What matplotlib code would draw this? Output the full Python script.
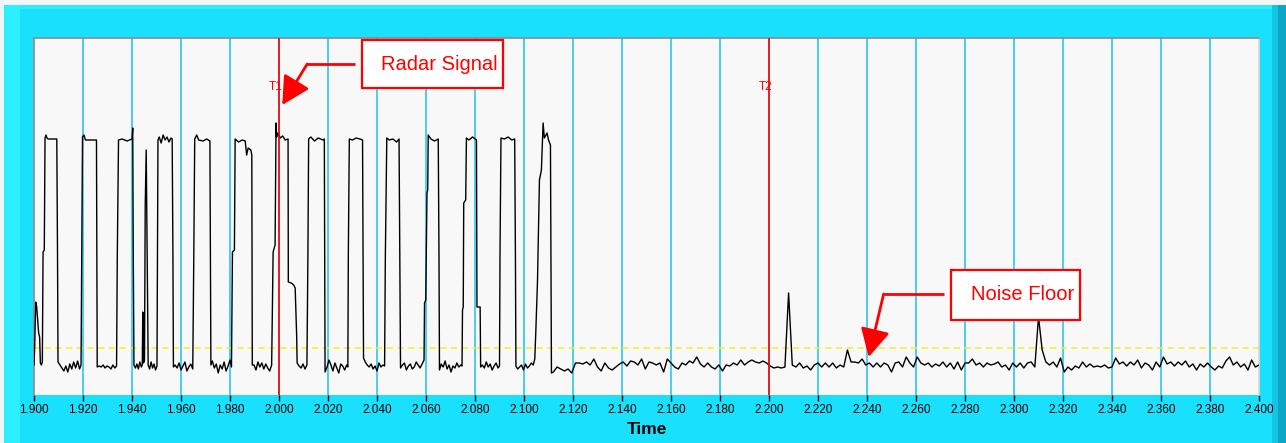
import numpy as np
import matplotlib
matplotlib.use("Agg")
import matplotlib.pyplot as plt
from matplotlib.patches import Rectangle

plt.rcParams['font.family'] = ['Liberation Sans', 'DejaVu Sans']

# ---------------- data ----------------
# pulse section of the trace (time, level)
pulse_time = [
    1.9000, 1.9003, 1.9007, 1.9011, 1.9015, 1.9019, 1.9023, 1.9026, 1.9030, 1.9034,
    1.9037, 1.9042, 1.9045, 1.9049, 1.9053, 1.9057, 1.9070, 1.9093, 1.9096, 1.9098,
    1.9106, 1.9114, 1.9122, 1.9130, 1.9138, 1.9146, 1.9154, 1.9162, 1.9170, 1.9178, 1.9186, 1.9192,
    1.9195, 1.9198, 1.9204, 1.9210, 1.9220, 1.9240, 1.9255, 1.9258,
    1.9266, 1.9274, 1.9282, 1.9290, 1.9298, 1.9306, 1.9314, 1.9322, 1.9330, 1.9337,
    1.9340, 1.9345, 1.9360, 1.9380, 1.9400, 1.9403, 1.9405, 1.9408,
    1.9414, 1.9420, 1.9426, 1.9432, 1.9438, 1.9442, 1.9444, 1.9447, 1.9451, 1.9454, 1.9458, 1.9462,
    1.9466, 1.9472, 1.9478, 1.9484, 1.9490, 1.9496, 1.9502,
    1.9506, 1.9511, 1.9519, 1.9527, 1.9535, 1.9543, 1.9551, 1.9559, 1.9564, 1.9567, 1.9569,
    1.9576, 1.9584, 1.9592, 1.9600, 1.9608, 1.9616, 1.9624, 1.9632, 1.9640, 1.9648,
    1.9652, 1.9656, 1.9664, 1.9672, 1.9690, 1.9705, 1.9718, 1.9722,
    1.9728, 1.9736, 1.9744, 1.9752, 1.9760, 1.9768, 1.9776, 1.9784, 1.9792, 1.9800, 1.9806,
    1.9810, 1.9818, 1.9821, 1.9835, 1.9850, 1.9862, 1.9868, 1.9874, 1.9885, 1.9889, 1.9891,
    1.9898, 1.9906, 1.9914, 1.9922, 1.9930, 1.9938, 1.9946, 1.9954, 1.9962, 1.9970,
    1.9976, 1.9984, 1.9988, 1.9990, 1.9995, 2.0005, 2.0015, 2.0025, 2.0037, 2.0038,
    2.0050, 2.0060, 2.0066, 2.0072, 2.0074,
    2.0082, 2.0090, 2.0098, 2.0106, 2.0114,
    2.0118, 2.0121, 2.0130, 2.0145, 2.0160, 2.0180, 2.0185, 2.0188,
    2.0196, 2.0204, 2.0212, 2.0220, 2.0228, 2.0236, 2.0244, 2.0252, 2.0260, 2.0268, 2.0276, 2.0281,
    2.0283, 2.0287, 2.0300, 2.0315, 2.0330, 2.0341, 2.0343, 2.0345,
    2.0352, 2.0360, 2.0368, 2.0376, 2.0384, 2.0392, 2.0400, 2.0408, 2.0416, 2.0424, 2.0431,
    2.0434, 2.0440, 2.0450, 2.0465, 2.0480, 2.0490, 2.0493, 2.0496,
    2.0504, 2.0512, 2.0520, 2.0528, 2.0536, 2.0544, 2.0552, 2.0560, 2.0568, 2.0576, 2.0584, 2.0592,
    2.0594, 2.0599, 2.0604, 2.0607, 2.0609, 2.0620, 2.0635, 2.0650, 2.0653, 2.0655,
    2.0662, 2.0670, 2.0678, 2.0686, 2.0694, 2.0702, 2.0710, 2.0718, 2.0726, 2.0734, 2.0742, 2.0747,
    2.0749, 2.0752, 2.0754, 2.0762, 2.0765, 2.0775, 2.0790, 2.0806, 2.0808, 2.0821, 2.0823,
    2.0830, 2.0838, 2.0846, 2.0854, 2.0862, 2.0870, 2.0878, 2.0886, 2.0894, 2.0900,
    2.0902, 2.0906, 2.0920, 2.0935, 2.0950, 2.0962, 2.0965, 2.0967,
    2.0974, 2.0982, 2.0990, 2.0998, 2.1006, 2.1014, 2.1022, 2.1030, 2.1038, 2.1044,
    2.1048, 2.1055, 2.1059, 2.1063, 2.1071, 2.1078, 2.1083, 2.1094, 2.1100, 2.1108, 2.1112,
]
pulse_level = [
    30, 50, 93, 88, 75, 62, 58, 32, 30, 33,
    143, 145, 257, 260, 257, 256, 256, 256, 140, 33,
    30, 27, 24, 29, 23, 31, 26, 33, 27, 34, 26, 30,
    140, 258, 260, 255, 255, 255, 255, 28,
    29, 28, 30, 27, 29, 28, 26, 30, 27, 29,
    140, 255, 256, 254, 256, 267, 148, 30,
    27, 31, 26, 33, 28, 30, 83, 32, 35, 190, 245, 133,
    30, 26, 33, 27, 31, 25, 29,
    255, 258, 252, 260, 255, 258, 253, 257, 256, 140, 28,
    30, 27, 32, 25, 29, 33, 24, 28, 31, 26,
    133, 256, 260, 255, 254, 256, 254, 30,
    34, 27, 31, 22, 30, 26, 33, 24, 29, 35, 28,
    143, 145, 256, 253, 255, 254, 240, 247, 245, 240, 30,
    30, 25, 33, 28, 32, 26, 31, 27, 24, 30,
    143, 150, 272, 258, 262, 257, 259, 255, 256, 113,
    112, 110, 107, 60, 32,
    29, 27, 31, 26, 30,
    140, 256, 258, 254, 257, 255, 256, 23,
    28, 35, 30, 24, 32, 27, 22, 31, 29, 25, 30, 28,
    140, 256, 255, 257, 256, 255, 140, 37,
    33, 30, 28, 31, 26, 29, 24, 32, 28, 30, 29,
    137, 257, 255, 256, 253, 256, 140, 27,
    30, 32, 25, 29, 31, 26, 28, 33, 30, 27, 31, 35,
    92, 95, 202, 205, 260, 256, 254, 256, 140, 25,
    31, 28, 34, 26, 30, 23, 29, 27, 32, 28, 30, 29,
    85, 88, 192, 195, 257, 255, 258, 255, 88, 88, 28,
    30, 27, 33, 28, 31, 25, 29, 32, 27, 29,
    138, 257, 256, 258, 255, 256, 138, 29,
    26, 28, 30, 25, 31, 27, 29, 32, 30, 36,
    62, 113, 162, 215, 225, 272, 257, 262, 255, 250, 22,
]

# noise-floor section, sampled every tail_step from tail_start
tail_start = 2.112
tail_step = 0.0015
tail_level = [
    23, 28, 26, 24, 26, 22, 32, 32, 31, 33,
    30, 36, 28, 24, 32, 27, 25, 28, 31, 33,
    29, 34, 33, 30, 36, 26, 33, 32, 30, 32,
    23, 36, 32, 28, 26, 32, 30, 34, 32, 38,
    31, 28, 32, 28, 26, 30, 24, 30, 29, 32,
    30, 35, 30, 33, 35, 33, 32, 34, 32, 29,
    27, 28, 27, 28, 102,
    30, 28, 32, 27, 29, 25, 30, 32, 28, 32,
    28, 32, 27, 30, 28, 45, 33, 33, 32, 36,
    30, 32, 28, 32, 28, 32, 30, 23, 32, 33,
    28, 38, 32, 28, 38, 32, 30, 32, 28, 31,
    29, 33, 28, 32, 26, 33, 25, 32, 32, 36,
    30, 32, 28, 32, 30, 31, 33, 28, 30, 25,
    32, 28, 32, 27, 32, 33, 28,
    78, 45,
    33, 30, 33, 28, 37, 23, 28, 25, 29, 27,
    33, 28, 31, 28, 29, 28, 30, 27, 28, 37,
    31, 33, 29, 33, 30, 35, 27, 32, 30, 25,
    33, 28, 38, 31, 33, 29, 33, 30, 34, 28,
    31, 25, 31, 28, 32, 28, 25, 29, 27, 34,
    38, 30, 33, 28, 31, 25, 35, 28, 30,
]

noise_floor = 47
cursor_times = [2.000, 2.200]
cursor_labels = ["T1", "T2"]
x_ticks = [round(1.9 + 0.02 * i, 3) for i in range(26)]
x_tick_labels = [f"{v:.3f}" for v in x_ticks]

# ---------------- figure ----------------
W, H = 1286, 443
fig = plt.figure(figsize=(W / 100, H / 100), dpi=100)
fig.patch.set_facecolor('#19e0fc')

def frect(x0, y0, x1, y1, color):
    fig.patches.append(Rectangle((x0 / W, 1 - y1 / H), (x1 - x0) / W, (y1 - y0) / H,
                                 transform=fig.transFigure, color=color, zorder=-10, lw=0))

frect(0, 0, W, 5, '#f4f6f7')
frect(0, 0, 4, H, '#f0f4f5')
frect(4, 5, W - 10, 9, '#30eaff')
frect(4, 5, 20, H, '#2cefff')
frect(W - 14, 5, W - 8, H, '#14c6e6')
frect(W - 8, 5, W, H, '#0ea6c6')

ax = fig.add_axes([34 / W, 48 / H, 1225 / W, 357 / H])
ax.set_facecolor('#f8f8f8')

trace_time = list(pulse_time) + list(tail_start + tail_step * np.arange(len(tail_level)))
trace_level = list(pulse_level) + list(tail_level)

ax.set_xlim(1.9, 2.4)
ax.set_ylim(0, 357)

for t in x_ticks[1:-1]:
    ax.axvline(t, color='#3ccbf0', lw=1.3, zorder=1)

ax.axhline(noise_floor, color='#f2f21a', lw=1.1, ls=(0, (4, 3)), zorder=2)
ax.plot(trace_time, trace_level, color='black', lw=1.0, zorder=3)

for t, lab in zip(cursor_times, cursor_labels):
    ax.axvline(t, color='#ff0000', lw=1.2, zorder=4)
    ax.text(t - 0.0012, 308, lab, color='#ff0000', fontsize=8.5, ha='center', va='center', zorder=5)

# annotations (positions in data coordinates of the axes)
def callout(text, box, start, corner, tip):
    (bx0, by0, bx1, by1) = box
    ax.add_patch(Rectangle((bx0, by0), bx1 - bx0, by1 - by0, facecolor='white',
                           edgecolor='#ff0000', lw=1.6, zorder=6))
    ax.text(bx1 - 0.0022, (by0 + by1) / 2, text, color='#ff0000', fontsize=14.5,
            ha='right', va='center', zorder=7)
    ax.plot([start[0], corner[0]], [start[1], corner[1]], color='#ff0000', lw=2, zorder=6,
            solid_capstyle='butt')
    ax.annotate('', xy=tip, xytext=corner,
                arrowprops=dict(arrowstyle='-|>,head_length=0.95,head_width=0.5',
                                color='#ff0000', lw=2, shrinkA=0, shrinkB=0, mutation_scale=18),
                zorder=6)

callout('Radar Signal', (2.0340, 307, 2.0916, 355), (2.0311, 331), (2.0115, 331), (2.0013, 290))
callout('Noise Floor', (2.2742, 75, 2.3269, 125), (2.2713, 101), (2.2468, 101), (2.2407, 38))

ax.set_xticks(x_ticks)
ax.set_xticklabels(x_tick_labels)
ax.set_yticks([])
ax.tick_params(axis='x', direction='out', length=4, width=1, color='black',
               labelsize=8.5, pad=2.5, labelcolor='black')
ax.set_xlabel('Time', fontsize=12.5, fontweight='bold', labelpad=4)

ax.spines['bottom'].set_visible(False)
ax.spines['top'].set_color('#8a8a8a')
ax.spines['left'].set_color('#8a8a8a')
ax.spines['right'].set_color('#d8d8d8')
for s in ['top', 'left', 'right']:
    ax.spines[s].set_linewidth(1.2)

fig.savefig('out.png', dpi=100, facecolor=fig.get_facecolor())
